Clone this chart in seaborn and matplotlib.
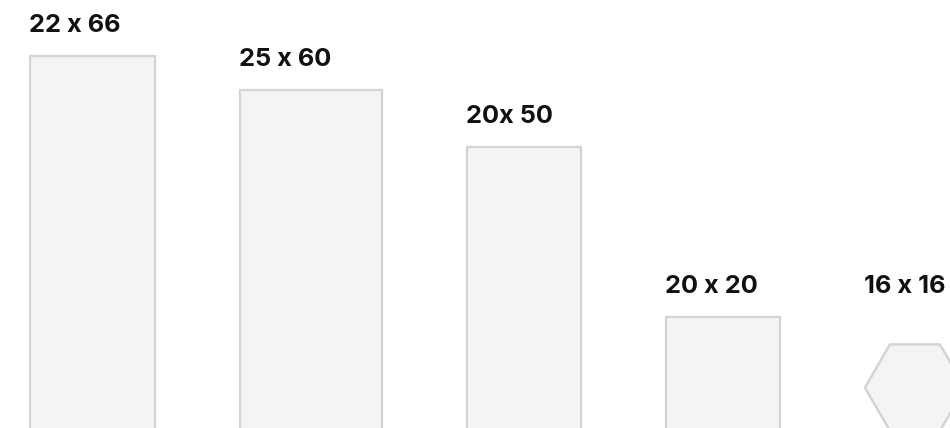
import numpy as np
import matplotlib
matplotlib.use("Agg")
import matplotlib.pyplot as plt
from matplotlib.patches import RegularPolygon
import seaborn as sns

# sizes of each icon slot (width x height)
labels = ["22 x 66", "25 x 60", "20x 50", "20 x 20", "16 x 16"]
widths = [22, 25, 20, 20, 16]
heights = [66, 60, 50, 20, 16]
shapes = ["rect", "rect", "rect", "rect", "hex"]

GAP = 15          # space between slots, in the same units
PX = 5.68         # pixels per unit
FILL = "#f4f4f4"
EDGE = "#d4d4d4"

sns.set_theme(style="white")
plt.rcParams["font.family"] = ["Inter", "DejaVu Sans"]

fig = plt.figure(figsize=(9.5, 4.28), dpi=100)
ax = fig.add_axes([0, 0, 1, 1])

lefts = np.concatenate([[0], np.cumsum(np.array(widths[:-1]) + GAP)])

for left, w, h, shape, lab in zip(lefts, widths, heights, shapes, labels):
    if shape == "rect":
        ax.bar(left, h, width=w, align="edge", color=FILL, edgecolor=EDGE, linewidth=1.6)
        label_y = h
    else:
        # hexagon sits on the baseline, slightly wider than its slot
        r = 0.55 * w
        ax.add_patch(RegularPolygon((left + r, r * np.sqrt(3) / 2), numVertices=6, radius=r,
                                    orientation=np.pi / 6, facecolor=FILL, edgecolor=EDGE,
                                    linewidth=1.8))
        # small icon shares the label row of the 20 px slot
        label_y = max(h, 20)
    ax.annotate(lab, (left, label_y), xytext=(-0.7, 17.3), textcoords="offset points",
                ha="left", va="baseline", fontsize=18.3, fontweight="bold", color="#111111")

ax.set_xlim(-30 / PX, (950 - 30) / PX)
ax.set_ylim((431 - 428) / PX, 431 / PX)
ax.axis("off")

fig.savefig("out.png", dpi=100)
plt.close(fig)
